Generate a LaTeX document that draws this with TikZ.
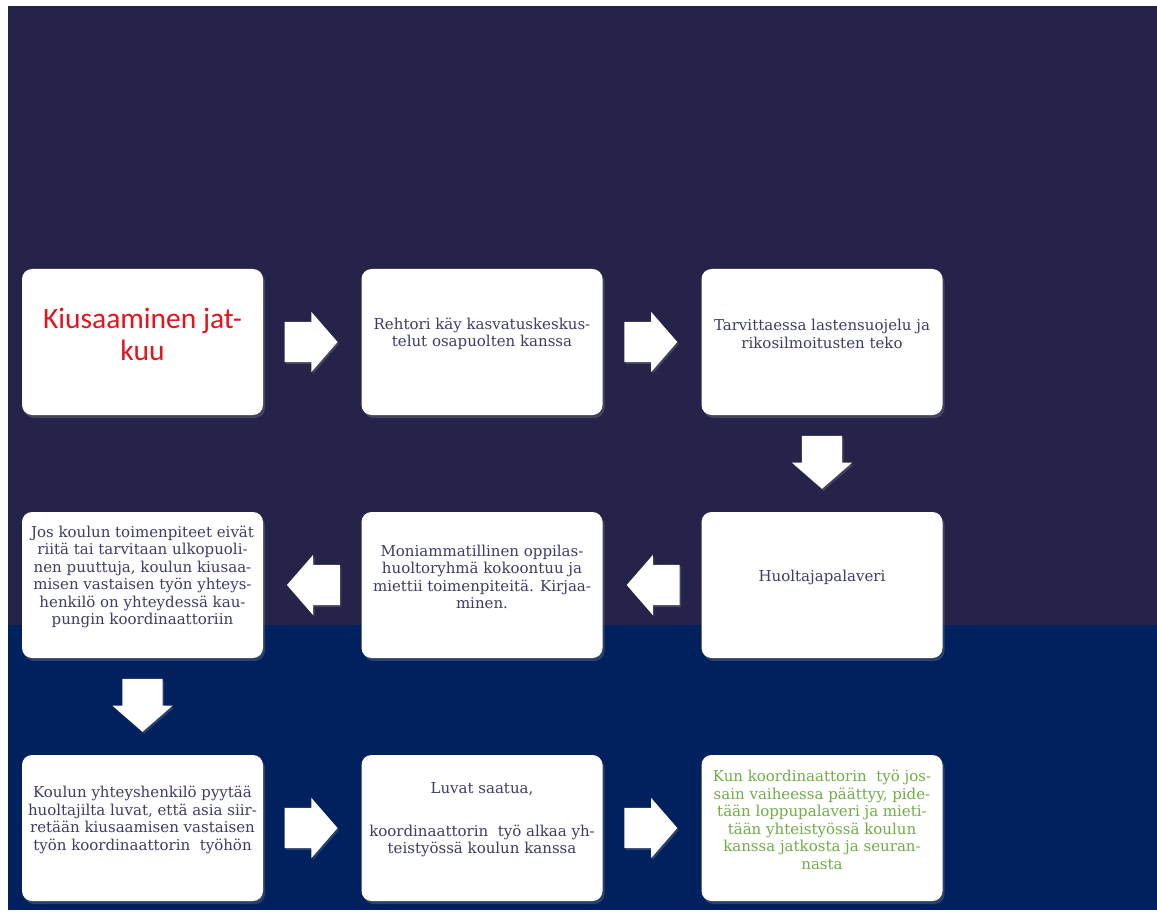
\documentclass[tikz,border=0pt]{standalone}
\usepackage{fontspec}
\setmainfont{DejaVu Serif}
\newfontfamily\titlefont{Carlito}
\usepackage{tikz}
\usetikzlibrary{positioning}
\usetikzlibrary{calc}
\usetikzlibrary{shapes.arrows}
\usetikzlibrary{shadows}

\definecolor{bgpurple}{HTML}{25234A}
\definecolor{bgnavy}{HTML}{00205E}
\definecolor{txtcol}{HTML}{3D3D66}
\definecolor{titlered}{HTML}{E3141E}
\definecolor{endgreen}{HTML}{70AD47}

\tikzset{
  stepbox/.style={rectangle,rounded corners=10pt,fill=white,inner sep=0pt,
    minimum width=241pt,minimum height=146pt,
    drop shadow={shadow xshift=2pt,shadow yshift=-3pt,opacity=0.35}},
  steptext/.style={align=center,text=txtcol,inner sep=0pt,
    font=\fontsize{15}{17.5}\selectfont},
  blockarrow/.style={single arrow,fill=white,inner xsep=0pt,inner ysep=20pt,
    minimum height=53pt,minimum width=60pt,single arrow head extend=10pt,
    single arrow tip angle=98,rotate=#1,xshift=-10pt,
    drop shadow={shadow xshift=1.5pt,shadow yshift=-2pt,opacity=0.35}},
  blockarrow/.default=0
}

\begin{document}
\begin{tikzpicture}[x=1pt,y=-1pt]
\useasboundingbox (0,0) rectangle (1157,912);
\fill[bgpurple] (8,6) rectangle (1157,625);
\fill[bgnavy] (8,625) rectangle (1157,910);

\coordinate (C1) at (142.5,342);
\coordinate (C2) at (482,342);
\coordinate (C3) at (822,342);
\coordinate (C4) at (822,585);
\coordinate (C5) at (482,585);
\coordinate (C6) at (142.5,585);
\coordinate (C7) at (142.5,828);
\coordinate (C8) at (482,828);
\coordinate (C9) at (822,828);

\node[stepbox] (P1) at (C1) {};
\node[stepbox] (P2) at (C2) {};
\node[stepbox] (P3) at (C3) {};
\node[stepbox] (P4) at (C4) {};
\node[stepbox] (P5) at (C5) {};
\node[stepbox] (P6) at (C6) {};
\node[stepbox] (P7) at (C7) {};
\node[stepbox] (P8) at (C8) {};
\node[stepbox] (P9) at (C9) {};

\node[align=center,text=titlered,inner sep=0pt,font=\titlefont\fontsize{29.5}{32}\selectfont]
  (T1) at ([yshift=8pt]P1.center) {Kiusaaminen jat-\\kuu};
\node[steptext] (T2) at ([yshift=8pt]P2.center) {Rehtori käy kasvatuskeskus-\\telut osapuolten kanssa};
\node[steptext] (T3) at ([yshift=8pt]P3.center) {Tarvittaessa lastensuojelu ja\\rikosilmoitusten teko};
\node[steptext] (T4) at ([yshift=8pt]P4.center) {Huoltajapalaveri};
\node[steptext] (T5) at ([yshift=8pt]P5.center) {Moniammatillinen oppilas-\\huoltoryhmä kokoontuu ja\\miettii toimenpiteitä. Kirjaa-\\minen.};
\node[steptext] (T6) at ([yshift=8pt]P6.center) {Jos koulun toimenpiteet eivät\\riitä tai tarvitaan ulkopuoli-\\nen puuttuja, koulun kiusaa-\\misen vastaisen työn yhteys-\\henkilö on yhteydessä kau-\\pungin koordinaattoriin};
\node[steptext] (T7) at ([yshift=8pt]P7.center) {Koulun yhteyshenkilö pyytää\\huoltajilta luvat, että asia siir-\\retään kiusaamisen vastaisen\\työn koordinaattorin\ \ työhön};
\node[steptext] (T8) at ([yshift=8pt]P8.center) {Luvat saatua,\\[25pt]koordinaattorin\ \ työ alkaa yh-\\teistyössä koulun kanssa};
\node[steptext,text=endgreen] (T9) at ([yshift=8pt]P9.center) {Kun koordinaattorin\ \ työ jos-\\sain vaiheessa päättyy, pide-\\tään loppupalaveri ja mieti-\\tään yhteistyössä koulun\\kanssa jatkosta ja seuran-\\nasta};

% block arrows between the steps
\node[blockarrow] (A1) at ($(P1.east)!0.5!(P2.west)$) {};
\node[blockarrow] (A2) at ($(P2.east)!0.5!(P3.west)$) {};
\node[blockarrow=-90] (A3) at ($(P3.south)!0.5!(P4.north)$) {};
\node[blockarrow=180] (A4) at ($(P4.west)!0.5!(P5.east)$) {};
\node[blockarrow=180] (A5) at ($(P5.west)!0.5!(P6.east)$) {};
\node[blockarrow=-90] (A6) at ($(P6.south)!0.5!(P7.north)$) {};
\node[blockarrow] (A7) at ($(P7.east)!0.5!(P8.west)$) {};
\node[blockarrow] (A8) at ($(P8.east)!0.5!(P9.west)$) {};
\end{tikzpicture}
\end{document}
